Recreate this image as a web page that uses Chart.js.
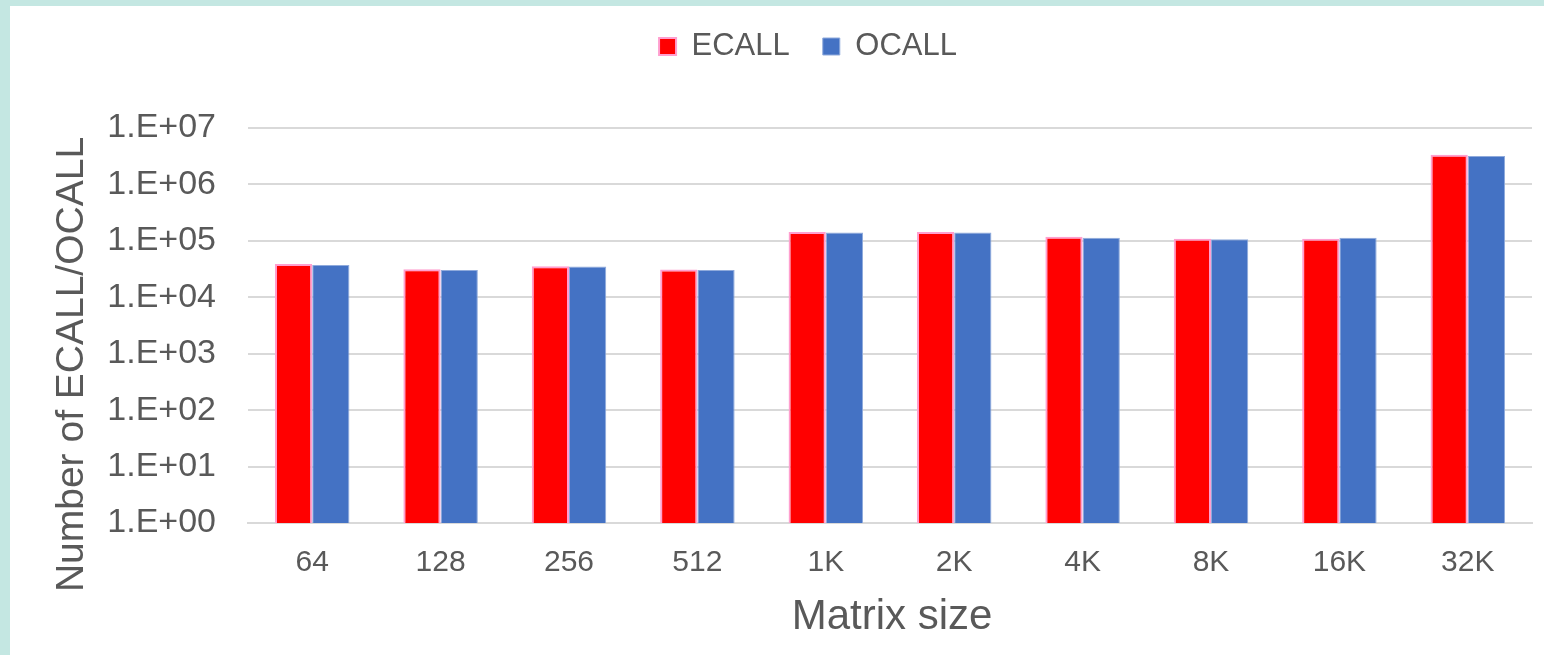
<!DOCTYPE html>
<html>
<head>
<meta charset="utf-8">
<script src="https://cdn.jsdelivr.net/npm/chart.js@4/dist/chart.umd.min.js"></script>
<style>
  html, body { margin: 0; padding: 0; }
  body { width: 1544px; height: 655px; background: #c4e7e2; position: relative; overflow: hidden; }
  #panel { position: absolute; left: 10px; top: 6px; width: 1534px; height: 649px; background: #ffffff; }
  canvas { display: block; }
</style>
</head>
<body>
<div id="panel"><canvas id="chart" width="1534" height="649"></canvas></div>
<script>
// Matrix sizes along the x axis
const categories = ['64', '128', '256', '512', '1K', '2K', '4K', '8K', '16K', '32K'];

// Number of calls per matrix size
const ecallCounts = [39000, 31500, 35500, 31000, 143000, 143000, 118000, 109000, 109000, 3350000];
const ocallCounts = [37500, 30500, 35000, 30500, 140000, 140000, 114000, 107000, 114000, 3200000];

// Decade ticks on the log axis and their labels
const yTickValues = [1, 10, 100, 1000, 10000, 100000, 1000000, 10000000];
const yTickLabels = ['1.E+00', '1.E+01', '1.E+02', '1.E+03', '1.E+04', '1.E+05', '1.E+06', '1.E+07'];

const seriesNames = ['ECALL', 'OCALL'];
const xTitle = 'Matrix size';
const yTitle = 'Number of ECALL/OCALL';

const FONT = '"Liberation Sans", Arial, Helvetica, sans-serif';
const TEXT = '#595959';
const GRID = '#d9d9d9';

// Nudge the legend so it sits where the layout wants it
const legendPlacement = {
  id: 'legendPlacement',
  afterLayout(chart) {
    const lg = chart.legend;
    if (!lg) return;
    const dx = 37;
    const newTop = -8;
    const h = lg.bottom - lg.top;
    lg.left += dx; lg.right += dx;
    lg.top = newTop; lg.bottom = newTop + h;
  }
};

// Axis titles drawn beside the plot
const axisTitles = {
  id: 'axisTitles',
  afterDraw(chart) {
    const { ctx, chartArea } = chart;
    ctx.save();
    ctx.fillStyle = TEXT;
    ctx.textAlign = 'center';
    ctx.textBaseline = 'middle';
    ctx.font = '42px ' + FONT;
    ctx.fillText(xTitle, (chartArea.left + chartArea.right) / 2 + 2, chartArea.bottom + 94);
    ctx.font = '39px ' + FONT;
    ctx.translate(62, (chartArea.top + chartArea.bottom) / 2 + 39);
    ctx.rotate(-Math.PI / 2);
    ctx.fillText(yTitle, 0, 0);
    ctx.restore();
  }
};

new Chart(document.getElementById('chart'), {
  type: 'bar',
  data: {
    labels: categories,
    datasets: [
      {
        label: seriesNames[0],
        data: ecallCounts,
        backgroundColor: '#ff0000',
        borderColor: '#ff9fcf',
        borderWidth: 2
      },
      {
        label: seriesNames[1],
        data: ocallCounts,
        backgroundColor: '#4472c4',
        borderColor: '#8faadc',
        borderWidth: 1
      }
    ]
  },
  options: {
    responsive: false,
    animation: false,
    devicePixelRatio: 1,
    layout: { padding: { top: 48, right: 12, bottom: 0, left: 0 } },
    datasets: { bar: { categoryPercentage: 0.58, barPercentage: 1.0 } },
    plugins: {
      tooltip: { enabled: false },
      legend: {
        position: 'top',
        align: 'center',
        labels: {
          color: TEXT,
          font: { family: FONT, size: 31 },
          boxWidth: 17,
          boxHeight: 17,
          padding: 33
        }
      }
    },
    scales: {
      x: {
        grid: { display: false, drawTicks: false },
        border: { display: true, color: GRID, width: 2 },
        ticks: {
          color: TEXT,
          font: { family: FONT, size: 30 },
          padding: 22,
          maxRotation: 0,
          autoSkip: false
        },
        afterFit(scale) { scale.height = 132; }
      },
      y: {
        type: 'logarithmic',
        min: 1,
        max: 10000000,
        grid: { color: GRID, lineWidth: 2, drawTicks: false },
        border: { display: false },
        ticks: {
          color: TEXT,
          font: { family: FONT, size: 34 },
          padding: 32,
          autoSkip: false,
          callback(value) {
            const i = yTickValues.indexOf(value);
            return i >= 0 ? yTickLabels[i] : '';
          }
        },
        afterBuildTicks(scale) {
          scale.ticks = yTickValues.map(v => ({ value: v }));
        },
        afterFit(scale) { scale.width = 238; }
      }
    }
  },
  plugins: [legendPlacement, axisTitles]
});
</script>
</body>
</html>
